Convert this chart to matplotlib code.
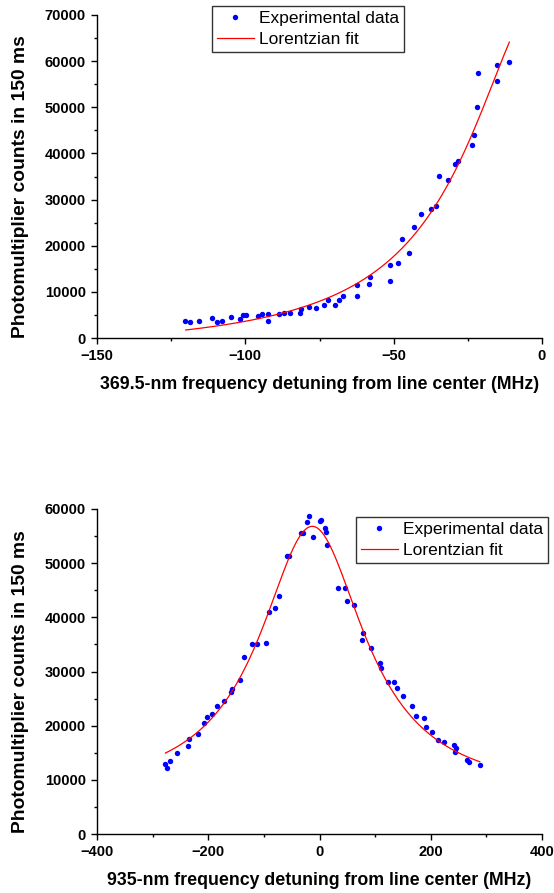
import matplotlib
matplotlib.use('Agg')
import matplotlib.pyplot as plt
from matplotlib.ticker import MultipleLocator
import numpy as np

plt.rcParams['font.family'] = ['Liberation Sans', 'DejaVu Sans']

# 369.5 nm scan (top panel)
det_369 = [-120.2, -118.5, -115.6, -111.2, -109.4, -107.7, -104.9, -101.7, -100.9, -99.9,
           -95.8, -94.4, -92.2, -92.3, -88.8, -86.9, -85.0, -81.6, -81.2, -78.7,
           -76.1, -73.4, -72.1, -69.9, -68.3, -67.2, -62.5, -62.2, -58.4, -57.9,
           -51.4, -51.3, -48.7, -47.2, -45.0, -43.0, -40.7, -37.3, -35.6, -34.8,
           -31.7, -29.3, -28.3, -23.6, -22.8, -22.0, -21.6, -15.3, -15.2, -11.0]
counts_369 = [3600, 3450, 3740, 4320, 3450, 3670, 4530, 4100, 5040, 4890,
              4750, 5110, 5250, 3740, 5250, 5470, 5470, 5470, 6330, 6760,
              6550, 7190, 8200, 7190, 8200, 9140, 9060, 11580, 11730, 13170,
              15900, 12370, 16330, 21440, 18420, 23960, 26910, 27910, 28710, 35040,
              34240, 37620, 38270, 41900, 43920, 50030, 57380, 55800, 59190, 59900]

# Lorentzian fit parameters
fit369_x0, fit369_hw, fit369_amp, fit369_base = 1.4, 30.9, 77940, -3000
fit369_range = (-120.1, -11.0)

# 935 nm scan (bottom panel)
det_935 = [-278.2, -274.5, -268.5, -255.9, -236.7, -234.9, -219.3, -208.5, -202.5, -192.9,
           -183.9, -172.5, -159.3, -158.1, -142.5, -135.3, -121.5, -112.5, -96.9, -91.5,
           -79.5, -72.9, -58.5, -54.3, -33.3, -29.1, -23.1, -18.3, -11.6, 1.6,
           3.4, 10.6, 11.8, 13.0, 34.0, 46.0, 50.2, 62.2, 76.6, 79.0,
           92.8, 109.0, 110.2, 122.8, 134.8, 139.0, 151.0, 166.6, 173.8, 187.0,
           191.8, 201.4, 213.4, 223.6, 241.0, 244.0, 245.2, 265.6, 268.0, 287.9]
counts_935 = [12960, 12160, 13460, 14940, 16170, 17530, 18460, 20490, 21600, 22100,
              23640, 24630, 26230, 26850, 28460, 32740, 35030, 35030, 35280, 40980,
              41780, 43990, 51350, 51350, 55520, 55580, 57550, 58710, 54790, 57730,
              57910, 56440, 55710, 53440, 45400, 45400, 43070, 42210, 35770, 37050,
              34290, 31620, 30650, 28020, 28020, 26910, 25490, 23640, 21790, 21480,
              19690, 18830, 17410, 16910, 16420, 15060, 15860, 13700, 13270, 12650]

fit935_x0, fit935_hw, fit935_amp, fit935_base = -13.0, 115.0, 49800, 7000
fit935_range = (-277.0, 288.0)

DATA_COLOR = '#0000ff'
FIT_COLOR = '#ff0000'


def lorentz(x, x0, hw, amp, base):
    return base + amp / (1 + ((x - x0) / hw) ** 2)


def style_axes(ax, xmaj, xmin, ymaj, ymin):
    for side in ('top', 'right'):
        ax.spines[side].set_visible(False)
    for side in ('left', 'bottom'):
        ax.spines[side].set_linewidth(1.0)
    ax.xaxis.set_major_locator(MultipleLocator(xmaj))
    ax.xaxis.set_minor_locator(MultipleLocator(xmin))
    ax.yaxis.set_major_locator(MultipleLocator(ymaj))
    ax.yaxis.set_minor_locator(MultipleLocator(ymin))
    ax.tick_params(which='major', direction='out', length=4.5, width=1.0, labelsize=10.5)
    ax.tick_params(which='minor', direction='out', length=2.5, width=1.0)
    for lab in ax.get_xticklabels() + ax.get_yticklabels():
        lab.set_fontweight('bold')


def draw_panel(ax, det, counts, params, frange, xlim, ylim, xlabel, legend_anchor, fig):
    ax.plot(det, counts, 'o', color=DATA_COLOR, markersize=3.9, markeredgewidth=0,
            label='Experimental data')
    xs = np.linspace(frange[0], frange[1], 300)
    ax.plot(xs, lorentz(xs, *params), '-', color=FIT_COLOR, lw=0.9, label='Lorentzian fit')
    ax.set_xlim(xlim)
    ax.set_ylim(ylim)
    ax.set_xlabel(xlabel, fontsize=12.8, fontweight='bold', labelpad=9)
    ax.set_ylabel('Photomultiplier counts in 150 ms', fontsize=13.9, fontweight='bold')
    ax.yaxis.set_label_coords(-0.152, 0.47)
    leg = ax.legend(loc='upper left', bbox_to_anchor=legend_anchor, bbox_transform=fig.transFigure,
                    borderaxespad=0, fontsize=12.5, frameon=True, fancybox=False,
                    handlelength=2.1, handletextpad=0.28, borderpad=0.3, labelspacing=0.32,
                    numpoints=1, markerscale=1.0)
    leg.get_frame().set_edgecolor('black')
    leg.get_frame().set_linewidth(1.0)


W, H = 554, 893
fig = plt.figure(figsize=(W / 100, H / 100), dpi=100)

ax1 = fig.add_axes([97 / W, 1 - 338 / H, 445 / W, 323 / H])
draw_panel(ax1, det_369, counts_369, (fit369_x0, fit369_hw, fit369_amp, fit369_base), fit369_range,
           (-150, 0), (0, 70000), '369.5-nm frequency detuning from line center (MHz)',
           (212 / W, 1 - 6 / H), fig)
style_axes(ax1, 50, 25, 10000, 5000)

ax2 = fig.add_axes([97 / W, 1 - 834 / H, 445 / W, 325 / H])
draw_panel(ax2, det_935, counts_935, (fit935_x0, fit935_hw, fit935_amp, fit935_base), fit935_range,
           (-400, 400), (0, 60000), '935-nm frequency detuning from line center (MHz)',
           (356 / W, 1 - 517 / H), fig)
style_axes(ax2, 200, 100, 10000, 5000)

fig.savefig('out.png', dpi=100)
